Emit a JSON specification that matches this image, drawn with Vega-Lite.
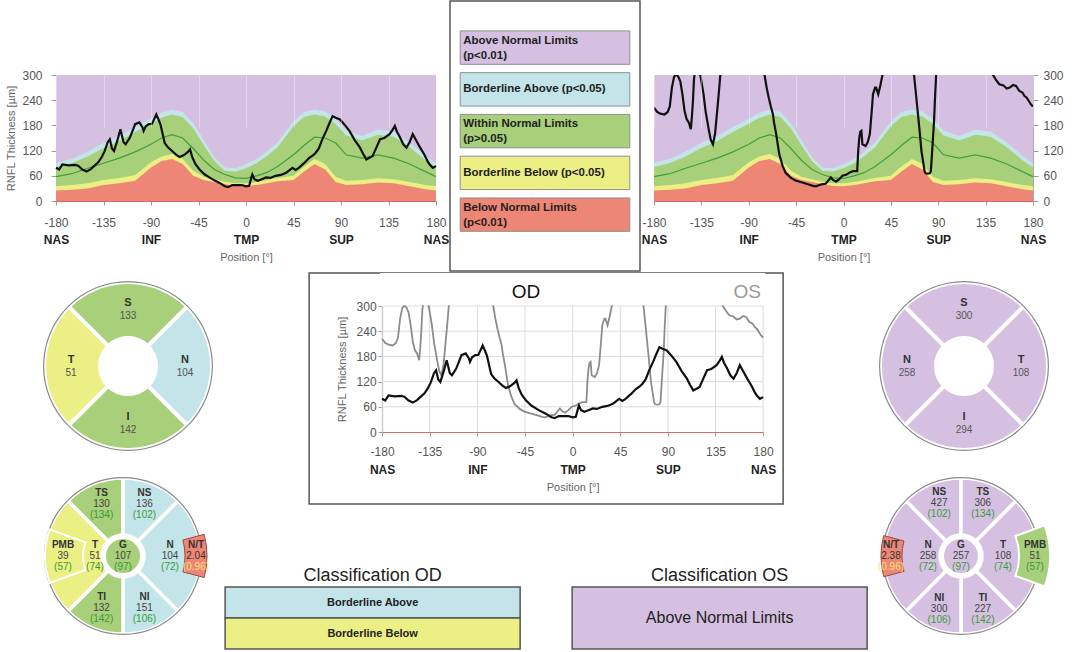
{
"$schema": "https://vega.github.io/schema/vega-lite/v6.json",
"background": "white",
"padding": {"left": 5, "top": 0, "right": 0, "bottom": 0},
"config": {"font": "Liberation Sans", "view": {"stroke": null}, "axis": {"labelOverlap": false}},
"datasets": {
 "norm": [
  {"pos": -180, "p1": 25, "p5": 35, "p50": 58, "p95": 81, "p99": 91},
  {"pos": -165, "p1": 27, "p5": 38, "p50": 65, "p95": 90, "p99": 100},
  {"pos": -150, "p1": 30, "p5": 42, "p50": 78, "p95": 106, "p99": 118},
  {"pos": -135, "p1": 38, "p5": 50, "p50": 90, "p95": 126, "p99": 138},
  {"pos": -120, "p1": 42, "p5": 55, "p50": 102, "p95": 143, "p99": 155},
  {"pos": -105, "p1": 48, "p5": 62, "p50": 117, "p95": 164, "p99": 176},
  {"pos": -90, "p1": 80, "p5": 92, "p50": 135, "p95": 184, "p99": 196},
  {"pos": -80, "p1": 95, "p5": 106, "p50": 150, "p95": 198, "p99": 210},
  {"pos": -70, "p1": 100, "p5": 112, "p50": 158, "p95": 206, "p99": 217},
  {"pos": -60, "p1": 88, "p5": 100, "p50": 150, "p95": 200, "p99": 212},
  {"pos": -50, "p1": 60, "p5": 72, "p50": 125, "p95": 173, "p99": 185},
  {"pos": -40, "p1": 50, "p5": 58, "p50": 97, "p95": 133, "p99": 145},
  {"pos": -30, "p1": 45, "p5": 52, "p50": 75, "p95": 95, "p99": 105},
  {"pos": -20, "p1": 40, "p5": 46, "p50": 63, "p95": 72, "p99": 80},
  {"pos": -10, "p1": 36, "p5": 42, "p50": 55, "p95": 70, "p99": 78},
  {"pos": 0, "p1": 35, "p5": 42, "p50": 54, "p95": 78, "p99": 88},
  {"pos": 10, "p1": 38, "p5": 45, "p50": 60, "p95": 90, "p99": 100},
  {"pos": 20, "p1": 42, "p5": 50, "p50": 68, "p95": 107, "p99": 118},
  {"pos": 30, "p1": 47, "p5": 55, "p50": 82, "p95": 128, "p99": 140},
  {"pos": 45, "p1": 50, "p5": 60, "p50": 110, "p95": 178, "p99": 190},
  {"pos": 55, "p1": 70, "p5": 82, "p50": 132, "p95": 200, "p99": 212},
  {"pos": 65, "p1": 88, "p5": 100, "p50": 152, "p95": 206, "p99": 218},
  {"pos": 75, "p1": 75, "p5": 88, "p50": 150, "p95": 201, "p99": 213},
  {"pos": 85, "p1": 45, "p5": 58, "p50": 138, "p95": 183, "p99": 195},
  {"pos": 95, "p1": 38, "p5": 48, "p50": 110, "p95": 156, "p99": 168},
  {"pos": 110, "p1": 40, "p5": 50, "p50": 102, "p95": 144, "p99": 155},
  {"pos": 125, "p1": 44, "p5": 54, "p50": 110, "p95": 158, "p99": 170},
  {"pos": 140, "p1": 42, "p5": 52, "p50": 102, "p95": 153, "p99": 165},
  {"pos": 155, "p1": 35, "p5": 45, "p50": 88, "p95": 128, "p99": 140},
  {"pos": 170, "p1": 28, "p5": 38, "p50": 70, "p95": 97, "p99": 108},
  {"pos": 180, "p1": 25, "p5": 35, "p50": 58, "p95": 80, "p99": 90}
 ],
 "od": [
  {"pos": -180, "t": 79}, {"pos": -177, "t": 75}, {"pos": -174, "t": 87}, {"pos": -168, "t": 85}, {"pos": -162, "t": 86},
  {"pos": -159, "t": 84}, {"pos": -155, "t": 75}, {"pos": -151, "t": 70}, {"pos": -147, "t": 76}, {"pos": -144, "t": 83},
  {"pos": -140, "t": 92}, {"pos": -137, "t": 103}, {"pos": -134, "t": 118}, {"pos": -131, "t": 140}, {"pos": -129, "t": 147},
  {"pos": -127, "t": 125}, {"pos": -125, "t": 119}, {"pos": -122, "t": 143}, {"pos": -119, "t": 171}, {"pos": -116, "t": 140},
  {"pos": -114, "t": 135}, {"pos": -110, "t": 151}, {"pos": -107, "t": 170}, {"pos": -105, "t": 183}, {"pos": -101, "t": 187},
  {"pos": -98, "t": 175}, {"pos": -97, "t": 167}, {"pos": -95, "t": 178}, {"pos": -92, "t": 183}, {"pos": -89, "t": 184},
  {"pos": -87, "t": 195}, {"pos": -85, "t": 206}, {"pos": -83, "t": 195}, {"pos": -81, "t": 182}, {"pos": -79, "t": 160},
  {"pos": -77, "t": 138}, {"pos": -74, "t": 128}, {"pos": -70, "t": 119}, {"pos": -66, "t": 110}, {"pos": -63, "t": 105},
  {"pos": -60, "t": 108}, {"pos": -58, "t": 111}, {"pos": -55, "t": 117}, {"pos": -53, "t": 123}, {"pos": -51, "t": 105},
  {"pos": -48, "t": 88}, {"pos": -44, "t": 75}, {"pos": -39, "t": 63}, {"pos": -34, "t": 55}, {"pos": -29, "t": 48},
  {"pos": -25, "t": 43}, {"pos": -20, "t": 35}, {"pos": -17, "t": 33}, {"pos": -13, "t": 38}, {"pos": -8, "t": 38},
  {"pos": -4, "t": 38}, {"pos": 0, "t": 35}, {"pos": 3, "t": 36}, {"pos": 5, "t": 55}, {"pos": 6, "t": 63},
  {"pos": 8, "t": 52}, {"pos": 11, "t": 48}, {"pos": 15, "t": 52}, {"pos": 19, "t": 56}, {"pos": 23, "t": 55},
  {"pos": 28, "t": 60}, {"pos": 33, "t": 62}, {"pos": 38, "t": 67}, {"pos": 41, "t": 73}, {"pos": 44, "t": 79},
  {"pos": 47, "t": 74}, {"pos": 50, "t": 79}, {"pos": 55, "t": 90}, {"pos": 60, "t": 103}, {"pos": 64, "t": 110},
  {"pos": 66, "t": 115}, {"pos": 69, "t": 125}, {"pos": 72, "t": 145}, {"pos": 76, "t": 167}, {"pos": 79, "t": 185},
  {"pos": 82, "t": 202}, {"pos": 85, "t": 198}, {"pos": 89, "t": 194}, {"pos": 93, "t": 183}, {"pos": 98, "t": 167},
  {"pos": 103, "t": 145}, {"pos": 108, "t": 127}, {"pos": 111, "t": 112}, {"pos": 114, "t": 99}, {"pos": 117, "t": 103},
  {"pos": 120, "t": 107}, {"pos": 124, "t": 130}, {"pos": 127, "t": 147}, {"pos": 131, "t": 150}, {"pos": 136, "t": 159},
  {"pos": 139, "t": 170}, {"pos": 141, "t": 179}, {"pos": 143, "t": 165}, {"pos": 146, "t": 151}, {"pos": 149, "t": 135},
  {"pos": 152, "t": 127}, {"pos": 155, "t": 140}, {"pos": 158, "t": 159}, {"pos": 161, "t": 145}, {"pos": 165, "t": 127},
  {"pos": 169, "t": 110}, {"pos": 172, "t": 95}, {"pos": 174, "t": 87}, {"pos": 177, "t": 79}, {"pos": 180, "t": 83}
 ],
 "os": [
  {"pos": -180, "t": 222}, {"pos": -177, "t": 212}, {"pos": -174, "t": 208}, {"pos": -170, "t": 206}, {"pos": -167, "t": 212},
  {"pos": -165, "t": 225}, {"pos": -163, "t": 270}, {"pos": -161, "t": 295}, {"pos": -159, "t": 302}, {"pos": -157, "t": 296},
  {"pos": -155, "t": 285}, {"pos": -153, "t": 254}, {"pos": -151, "t": 215}, {"pos": -149, "t": 195}, {"pos": -147, "t": 187},
  {"pos": -145, "t": 171}, {"pos": -144, "t": 200}, {"pos": -143, "t": 238}, {"pos": -142, "t": 290}, {"pos": -140, "t": 330},
  {"pos": -138, "t": 330}, {"pos": -136, "t": 300}, {"pos": -133, "t": 255}, {"pos": -131, "t": 214}, {"pos": -128, "t": 170},
  {"pos": -126, "t": 145}, {"pos": -124, "t": 135}, {"pos": -122, "t": 160}, {"pos": -120, "t": 214}, {"pos": -118, "t": 270},
  {"pos": -117, "t": 300}, {"pos": -112, "t": 380}, {"pos": -100, "t": 420}, {"pos": -85, "t": 400}, {"pos": -78, "t": 330},
  {"pos": -75, "t": 300}, {"pos": -73, "t": 270}, {"pos": -71, "t": 246}, {"pos": -69, "t": 225}, {"pos": -67, "t": 206},
  {"pos": -66, "t": 187}, {"pos": -64, "t": 160}, {"pos": -61, "t": 111}, {"pos": -58, "t": 85}, {"pos": -55, "t": 67},
  {"pos": -50, "t": 55}, {"pos": -45, "t": 48}, {"pos": -39, "t": 44}, {"pos": -34, "t": 40}, {"pos": -29, "t": 36},
  {"pos": -26, "t": 35}, {"pos": -23, "t": 38}, {"pos": -20, "t": 40}, {"pos": -17, "t": 41}, {"pos": -14, "t": 50},
  {"pos": -12, "t": 56}, {"pos": -10, "t": 50}, {"pos": -7, "t": 46}, {"pos": -4, "t": 52}, {"pos": -1, "t": 60},
  {"pos": 3, "t": 63}, {"pos": 6, "t": 68}, {"pos": 9, "t": 71}, {"pos": 13, "t": 71}, {"pos": 14, "t": 120},
  {"pos": 15, "t": 151}, {"pos": 16, "t": 165}, {"pos": 17, "t": 167}, {"pos": 18, "t": 135}, {"pos": 21, "t": 131},
  {"pos": 23, "t": 140}, {"pos": 25, "t": 159}, {"pos": 27, "t": 220}, {"pos": 28, "t": 254}, {"pos": 30, "t": 270},
  {"pos": 31, "t": 270}, {"pos": 33, "t": 254}, {"pos": 35, "t": 275}, {"pos": 37, "t": 300}, {"pos": 42, "t": 350},
  {"pos": 50, "t": 400}, {"pos": 60, "t": 380}, {"pos": 64, "t": 330}, {"pos": 67, "t": 300}, {"pos": 69, "t": 250},
  {"pos": 72, "t": 175}, {"pos": 74, "t": 120}, {"pos": 77, "t": 71}, {"pos": 78, "t": 66}, {"pos": 80, "t": 65},
  {"pos": 82, "t": 66}, {"pos": 83, "t": 71}, {"pos": 84, "t": 110}, {"pos": 86, "t": 190}, {"pos": 87, "t": 250},
  {"pos": 88, "t": 300}, {"pos": 92, "t": 360}, {"pos": 100, "t": 420}, {"pos": 120, "t": 420}, {"pos": 135, "t": 360},
  {"pos": 140, "t": 310}, {"pos": 142, "t": 300}, {"pos": 145, "t": 288}, {"pos": 148, "t": 278}, {"pos": 152, "t": 275},
  {"pos": 155, "t": 268}, {"pos": 158, "t": 270}, {"pos": 161, "t": 276}, {"pos": 164, "t": 274}, {"pos": 167, "t": 262},
  {"pos": 170, "t": 258}, {"pos": 172, "t": 250}, {"pos": 174, "t": 246}, {"pos": 176, "t": 238}, {"pos": 178, "t": 230},
  {"pos": 180, "t": 225}
 ],
 "gx": [{"v": -180}, {"v": -135}, {"v": -90}, {"v": -45}, {"v": 0}, {"v": 45}, {"v": 90}, {"v": 135}, {"v": 180}],
 "gy": [{"v": 60}, {"v": 120}, {"v": 180}, {"v": 240}, {"v": 300}],
 "panel": [{"part": "plot"}],
 "eyes": [{"eye": "OD"}, {"eye": "OS"}],
 "legend": [
  {"label": "Above Normal Limits\n(p<0.01)", "cls": "ANL"},
  {"label": "Borderline Above (p<0.05)", "cls": "BA"},
  {"label": "Within Normal Limits\n(p>0.05)", "cls": "WNL"},
  {"label": "Borderline Below (p<0.05)", "cls": "BB"},
  {"label": "Below Normal Limits\n(p<0.01)", "cls": "BNL"}
 ],
 "clsod": [{"label": "Borderline Above", "cls": "BA"}, {"label": "Borderline Below", "cls": "BB"}],
 "clsos": [{"label": "Above Normal Limits", "cls": "ANL"}],
 "c4od": [
  {"k": 1, "sector": "S", "value": 133, "cls": "WNL"},
  {"k": 2, "sector": "N", "value": 104, "cls": "BA"},
  {"k": 3, "sector": "I", "value": 142, "cls": "WNL"},
  {"k": 4, "sector": "T", "value": 51, "cls": "BB"}
 ],
 "c4os": [
  {"k": 1, "sector": "S", "value": 300, "cls": "ANL"},
  {"k": 2, "sector": "T", "value": 108, "cls": "ANL"},
  {"k": 3, "sector": "I", "value": 294, "cls": "ANL"},
  {"k": 4, "sector": "N", "value": 258, "cls": "ANL"}
 ],
 "c8od": [
  {"k": 1, "sector": "TS", "deg": 45, "value": 130, "normal": "(134)", "cls": "WNL"},
  {"k": 2, "sector": "NS", "deg": 45, "value": 136, "normal": "(102)", "cls": "BA"},
  {"k": 3, "sector": "N", "deg": 90, "value": 104, "normal": "(72)", "cls": "BA"},
  {"k": 4, "sector": "NI", "deg": 45, "value": 151, "normal": "(106)", "cls": "BA"},
  {"k": 5, "sector": "TI", "deg": 45, "value": 132, "normal": "(142)", "cls": "WNL"},
  {"k": 6, "sector": "T", "deg": 90, "value": 51, "normal": "(74)", "cls": "BB"}
 ],
 "c8os": [
  {"k": 1, "sector": "NS", "deg": 45, "value": 427, "normal": "(102)", "cls": "ANL"},
  {"k": 2, "sector": "TS", "deg": 45, "value": 306, "normal": "(134)", "cls": "ANL"},
  {"k": 3, "sector": "T", "deg": 90, "value": 108, "normal": "(74)", "cls": "ANL"},
  {"k": 4, "sector": "TI", "deg": 45, "value": 227, "normal": "(142)", "cls": "ANL"},
  {"k": 5, "sector": "NI", "deg": 45, "value": 300, "normal": "(106)", "cls": "ANL"},
  {"k": 6, "sector": "N", "deg": 90, "value": 258, "normal": "(72)", "cls": "ANL"}
 ],
 "god": [{"sector": "G", "value": "107", "normal": "(97)", "cls": "WNL"}],
 "gos": [{"sector": "G", "value": "257", "normal": "(97)", "cls": "ANL"}],
 "pmbod": [{"sector": "PMB", "value": "39", "normal": "(57)", "cls": "BB"}],
 "pmbos": [{"sector": "PMB", "value": "51", "normal": "(57)", "cls": "WNL"}],
 "ntod": [{"sector": "N/T", "value": "2.04", "normal": "(0.96)", "cls": "BNL"}],
 "ntos": [{"sector": "N/T", "value": "2.38", "normal": "(0.96)", "cls": "BNL"}]
},
"spacing": 0,
"vconcat": [
 {"hconcat": [
  {"width": 380, "height": 200,
   "resolve": {"axis": {"x": "independent", "y": "independent"}},
   "layer": [
    {"data": {"name": "panel"}, "mark": {"type": "rect", "color": "#d6c0e1"},
     "encoding": {
      "x": {"datum": -180, "type": "quantitative", "scale": {"domain": [-180, 180], "nice": false},
            "axis": {"values": [-180,-135,-90,-45,0,45,90,135,180], "labelExpr": "'' + datum.value", "title": null, "labelFontSize": 12, "labelColor": "#555555", "labelFlush": false, "labelOverlap": false, "labelPadding": 12, "tickSize": 4, "tickColor": "#999999", "domainColor": "#e06060", "grid": true, "gridColor": "#ffffff", "gridOpacity": 0.35, "zindex": 1}},
      "x2": {"datum": 180},
      "y": {"datum": 0, "type": "quantitative", "scale": {"domain": [0, 300], "range": [200, 74], "nice": false},
            "axis": {"values": [0,60,120,180,240,300], "title": "RNFL Thickness [µm]", "titleFontSize": 11, "titleFontWeight": "normal", "titleColor": "#666666", "titlePadding": 5, "labelFontSize": 12, "labelColor": "#555555", "labelOverlap": false, "labelPadding": 9, "tickSize": 5, "tickColor": "#999999", "domainColor": "#aaaaaa", "grid": false}},
      "y2": {"datum": 300}}},
    {"data": {"name": "norm"}, "mark": {"type": "area", "color": "#c3e4e8"}, "encoding": {"x": {"field": "pos", "type": "quantitative", "axis": null}, "y": {"field": "p99", "type": "quantitative", "axis": null}}},
    {"data": {"name": "norm"}, "mark": {"type": "area", "color": "#a8cf79"}, "encoding": {"x": {"field": "pos", "type": "quantitative", "axis": null}, "y": {"field": "p95", "type": "quantitative", "axis": null}}},
    {"data": {"name": "norm"}, "mark": {"type": "area", "color": "#ecef84"}, "encoding": {"x": {"field": "pos", "type": "quantitative", "axis": null}, "y": {"field": "p5", "type": "quantitative", "axis": null}}},
    {"data": {"name": "norm"}, "mark": {"type": "area", "color": "#ee8676"}, "encoding": {"x": {"field": "pos", "type": "quantitative", "axis": null}, "y": {"field": "p1", "type": "quantitative", "axis": null}}},
    {"data": {"name": "norm"}, "mark": {"type": "line", "color": "#3f9f3f", "strokeWidth": 1.2}, "encoding": {"x": {"field": "pos", "type": "quantitative", "axis": null}, "y": {"field": "p50", "type": "quantitative", "axis": null}}},
    {"data": {"name": "od"}, "mark": {"type": "line", "color": "#111111", "strokeWidth": 2.2},
     "encoding": {
      "x": {"field": "pos", "type": "quantitative",
            "axis": {"orient": "bottom", "values": [-180,-90,0,90,180], "labelExpr": "datum.value == -90 ? 'INF' : datum.value == 0 ? 'TMP' : datum.value == 90 ? 'SUP' : 'NAS'", "labelFontWeight": "bold", "labelFontSize": 12, "labelColor": "#222222", "labelFlush": false, "labelOverlap": false, "domain": false, "ticks": false, "grid": false, "offset": 33, "labelPadding": 0, "title": "Position [°]", "titleFontSize": 11, "titleFontWeight": "normal", "titleColor": "#666666", "titlePadding": 6}},
      "y": {"field": "t", "type": "quantitative", "axis": null}}}
   ]},
  {"width": 190, "height": 270,
   "view": {"stroke": "#555555", "strokeWidth": 1.5},
   "data": {"name": "legend"},
   "encoding": {"y": {"field": "cls", "type": "nominal", "sort": null, "scale": {"domain": ["ANL","BA","WNL","BB","BNL"], "paddingInner": 0.2, "paddingOuter": 0.833, "align": 0.43}, "axis": null}},
   "layer": [
    {"mark": {"type": "bar", "stroke": "#8f8f8f", "strokeWidth": 1},
     "encoding": {
      "x": {"aggregate": "count", "type": "quantitative", "scale": {"domain": [-0.06, 1.06], "nice": false}, "axis": null},
      "color": {"field": "cls", "type": "nominal", "scale": {"domain": ["ANL","BA","WNL","BB","BNL"], "range": ["#d6c0e1","#c3e4e8","#a8cf79","#ecef84","#ee8676"]}, "legend": null}}},
    {"transform": [{"filter": "datum.cls == 'ANL' || datum.cls == 'WNL' || datum.cls == 'BNL'"}],
     "mark": {"type": "text", "align": "left", "baseline": "middle", "lineBreak": "\n", "lineHeight": 15, "fontWeight": "bold", "fontSize": 11.5, "color": "#222222", "dx": 3, "dy": -7},
     "encoding": {"x": {"datum": 0, "type": "quantitative"}, "text": {"field": "label", "type": "nominal"}}},
    {"transform": [{"filter": "datum.cls == 'BA' || datum.cls == 'BB'"}],
     "mark": {"type": "text", "align": "left", "baseline": "middle", "fontWeight": "bold", "fontSize": 11.5, "color": "#222222", "dx": 3},
     "encoding": {"x": {"datum": 0, "type": "quantitative"}, "text": {"field": "label", "type": "nominal"}}}
   ]},
  {"width": 379, "height": 200,
   "resolve": {"axis": {"x": "independent", "y": "independent"}},
   "layer": [
    {"data": {"name": "panel"}, "mark": {"type": "rect", "color": "#d6c0e1"},
     "encoding": {
      "x": {"datum": -180, "type": "quantitative", "scale": {"domain": [-180, 180], "nice": false},
            "axis": {"values": [-180,-135,-90,-45,0,45,90,135,180], "labelExpr": "'' + datum.value", "title": null, "labelFontSize": 12, "labelColor": "#555555", "labelFlush": false, "labelOverlap": false, "labelPadding": 12, "tickSize": 4, "tickColor": "#999999", "domainColor": "#e06060", "grid": true, "gridColor": "#ffffff", "gridOpacity": 0.35, "zindex": 1}},
      "x2": {"datum": 180},
      "y": {"datum": 0, "type": "quantitative", "scale": {"domain": [0, 300], "range": [200, 74], "nice": false},
            "axis": {"orient": "right", "values": [0,60,120,180,240,300], "title": null, "labelFontSize": 12, "labelColor": "#555555", "labelOverlap": false, "labelPadding": 5, "tickSize": 5, "tickColor": "#999999", "domainColor": "#aaaaaa", "grid": false}},
      "y2": {"datum": 300}}},
    {"data": {"name": "norm"}, "mark": {"type": "area", "color": "#c3e4e8"}, "encoding": {"x": {"field": "pos", "type": "quantitative", "axis": null}, "y": {"field": "p99", "type": "quantitative", "axis": null}}},
    {"data": {"name": "norm"}, "mark": {"type": "area", "color": "#a8cf79"}, "encoding": {"x": {"field": "pos", "type": "quantitative", "axis": null}, "y": {"field": "p95", "type": "quantitative", "axis": null}}},
    {"data": {"name": "norm"}, "mark": {"type": "area", "color": "#ecef84"}, "encoding": {"x": {"field": "pos", "type": "quantitative", "axis": null}, "y": {"field": "p5", "type": "quantitative", "axis": null}}},
    {"data": {"name": "norm"}, "mark": {"type": "area", "color": "#ee8676"}, "encoding": {"x": {"field": "pos", "type": "quantitative", "axis": null}, "y": {"field": "p1", "type": "quantitative", "axis": null}}},
    {"data": {"name": "norm"}, "mark": {"type": "line", "color": "#3f9f3f", "strokeWidth": 1.2}, "encoding": {"x": {"field": "pos", "type": "quantitative", "axis": null}, "y": {"field": "p50", "type": "quantitative", "axis": null}}},
    {"data": {"name": "os"}, "mark": {"type": "line", "color": "#111111", "strokeWidth": 2.2, "clip": true},
     "encoding": {
      "x": {"field": "pos", "type": "quantitative",
            "axis": {"orient": "bottom", "values": [-180,-90,0,90,180], "labelExpr": "datum.value == -90 ? 'INF' : datum.value == 0 ? 'TMP' : datum.value == 90 ? 'SUP' : 'NAS'", "labelFontWeight": "bold", "labelFontSize": 12, "labelColor": "#222222", "labelFlush": false, "labelOverlap": false, "domain": false, "ticks": false, "grid": false, "offset": 33, "labelPadding": 0, "title": "Position [°]", "titleFontSize": 11, "titleFontWeight": "normal", "titleColor": "#666666", "titlePadding": 6}},
      "y": {"field": "t", "type": "quantitative", "axis": null}}},
    {"data": {"name": "panel"}, "mark": {"type": "rect", "color": "white", "clip": true},
     "encoding": {"x": {"datum": -181, "type": "quantitative", "axis": null}, "x2": {"datum": 181}, "y": {"datum": 300, "type": "quantitative", "axis": null}, "y2": {"datum": 520}}}
   ]}
 ], "spacing": 0},
 {"hconcat": [
  {"vconcat": [
   {"width": 144, "height": 186,
    "data": {"name": "c4od"},
    "encoding": {
     "theta": {"aggregate": "count", "type": "quantitative", "stack": true, "scale": {"range": [-0.7854, 5.4978]}},
     "order": {"field": "k", "type": "quantitative"}},
    "layer": [
     {"mark": {"type": "arc", "outerRadius": 84, "innerRadius": 28, "stroke": "white", "strokeWidth": 4},
      "encoding": {"color": {"field": "cls", "type": "nominal", "scale": {"domain": ["ANL","BA","WNL","BB","BNL"], "range": ["#d6c0e1","#c3e4e8","#a8cf79","#ecef84","#ee8676"]}, "legend": null}}},
     {"mark": {"type": "arc", "outerRadius": 85, "innerRadius": 83.8, "color": "#8a8a8a"}},
     {"mark": {"type": "text", "radius": 57, "fontWeight": "bold", "fontSize": 11, "dy": -6, "color": "#333333"}, "encoding": {"text": {"field": "sector", "type": "nominal"}}},
     {"mark": {"type": "text", "radius": 57, "fontSize": 10, "dy": 7, "color": "#555555"}, "encoding": {"text": {"field": "value", "type": "nominal"}}}
    ]},
   {"width": 134, "height": 194,
    "layer": [
     {"data": {"name": "c8od"},
      "encoding": {
       "theta": {"field": "deg", "type": "quantitative", "stack": true, "scale": {"range": [-0.7854, 5.4978]}},
       "order": {"field": "k", "type": "quantitative"}},
      "layer": [
       {"mark": {"type": "arc", "outerRadius": 78, "innerRadius": 21, "stroke": "white", "strokeWidth": 3.5},
        "encoding": {"color": {"field": "cls", "type": "nominal", "scale": {"domain": ["ANL","BA","WNL","BB","BNL"], "range": ["#d6c0e1","#c3e4e8","#a8cf79","#ecef84","#ee8676"]}, "legend": null}}},
       {"mark": {"type": "arc", "outerRadius": 79, "innerRadius": 77.8, "color": "#8a8a8a"}}
      ]},
     {"data": {"name": "pmbod"}, "mark": {"type": "arc", "theta": 4.36, "theta2": 5.06, "innerRadius": 40, "outerRadius": 78, "stroke": "white", "strokeWidth": 2},
      "encoding": {"color": {"field": "cls", "type": "nominal", "scale": {"domain": ["ANL","BA","WNL","BB","BNL"], "range": ["#d6c0e1","#c3e4e8","#a8cf79","#ecef84","#ee8676"]}, "legend": null}}},
     {"data": {"name": "ntod"}, "mark": {"type": "arc", "theta": 1.31, "theta2": 1.83, "innerRadius": 62, "outerRadius": 84, "stroke": "#9a4a40", "strokeWidth": 1},
      "encoding": {"color": {"field": "cls", "type": "nominal", "scale": {"domain": ["ANL","BA","WNL","BB","BNL"], "range": ["#d6c0e1","#c3e4e8","#a8cf79","#ecef84","#ee8676"]}, "legend": null}}},
     {"data": {"name": "god"}, "mark": {"type": "arc", "theta": 0, "theta2": 6.2832, "innerRadius": 0, "outerRadius": 17},
      "encoding": {"color": {"field": "cls", "type": "nominal", "scale": {"domain": ["ANL","BA","WNL","BB","BNL"], "range": ["#d6c0e1","#c3e4e8","#a8cf79","#ecef84","#ee8676"]}, "legend": null}}},
     {"data": {"name": "c8od"},
      "encoding": {
       "theta": {"field": "deg", "type": "quantitative", "stack": true, "scale": {"range": [-0.7854, 5.4978]}},
       "order": {"field": "k", "type": "quantitative"}},
      "layer": [
       {"mark": {"type": "text", "radius": 56, "fontWeight": "bold", "fontSize": 10, "dy": -11, "color": "#333333"}, "encoding": {"text": {"condition": {"test": "datum.deg == 45", "field": "sector", "type": "nominal"}, "value": ""}}},
       {"mark": {"type": "text", "radius": 56, "fontSize": 10, "dy": 0, "color": "#444444"}, "encoding": {"text": {"condition": {"test": "datum.deg == 45", "field": "value", "type": "nominal"}, "value": ""}}},
       {"mark": {"type": "text", "radius": 56, "fontSize": 10, "dy": 11, "color": "#3a9a3a"}, "encoding": {"text": {"condition": {"test": "datum.deg == 45", "field": "normal", "type": "nominal"}, "value": ""}}},
       {"mark": {"type": "text", "radius": 47, "fontWeight": "bold", "fontSize": 10, "dy": -11, "color": "#333333"}, "encoding": {"text": {"condition": {"test": "datum.sector == 'N'", "field": "sector", "type": "nominal"}, "value": ""}}},
       {"mark": {"type": "text", "radius": 47, "fontSize": 10, "dy": 0, "color": "#444444"}, "encoding": {"text": {"condition": {"test": "datum.sector == 'N'", "field": "value", "type": "nominal"}, "value": ""}}},
       {"mark": {"type": "text", "radius": 47, "fontSize": 10, "dy": 11, "color": "#3a9a3a"}, "encoding": {"text": {"condition": {"test": "datum.sector == 'N'", "field": "normal", "type": "nominal"}, "value": ""}}},
       {"mark": {"type": "text", "radius": 28, "fontWeight": "bold", "fontSize": 10, "dy": -11, "color": "#333333"}, "encoding": {"text": {"condition": {"test": "datum.sector == 'T'", "field": "sector", "type": "nominal"}, "value": ""}}},
       {"mark": {"type": "text", "radius": 28, "fontSize": 10, "dy": 0, "color": "#444444"}, "encoding": {"text": {"condition": {"test": "datum.sector == 'T'", "field": "value", "type": "nominal"}, "value": ""}}},
       {"mark": {"type": "text", "radius": 28, "fontSize": 10, "dy": 11, "color": "#3a9a3a"}, "encoding": {"text": {"condition": {"test": "datum.sector == 'T'", "field": "normal", "type": "nominal"}, "value": ""}}}
      ]},
     {"data": {"name": "god"}, "mark": {"type": "text", "fontWeight": "bold", "fontSize": 10, "dy": -11, "color": "#333333"}, "encoding": {"text": {"field": "sector", "type": "nominal"}}},
     {"data": {"name": "god"}, "mark": {"type": "text", "fontSize": 10, "dy": 0, "color": "#444444"}, "encoding": {"text": {"field": "value", "type": "nominal"}}},
     {"data": {"name": "god"}, "mark": {"type": "text", "fontSize": 10, "dy": 11, "color": "#3a9a3a"}, "encoding": {"text": {"field": "normal", "type": "nominal"}}},
     {"data": {"name": "pmbod"}, "mark": {"type": "text", "theta": 4.712, "radius": 60, "fontWeight": "bold", "fontSize": 10, "dy": -11, "color": "#333333"}, "encoding": {"text": {"field": "sector", "type": "nominal"}}},
     {"data": {"name": "pmbod"}, "mark": {"type": "text", "theta": 4.712, "radius": 60, "fontSize": 10, "dy": 0, "color": "#444444"}, "encoding": {"text": {"field": "value", "type": "nominal"}}},
     {"data": {"name": "pmbod"}, "mark": {"type": "text", "theta": 4.712, "radius": 60, "fontSize": 10, "dy": 11, "color": "#3a9a3a"}, "encoding": {"text": {"field": "normal", "type": "nominal"}}},
     {"data": {"name": "ntod"}, "mark": {"type": "text", "theta": 1.5708, "radius": 73, "fontWeight": "bold", "fontSize": 10, "dy": -11, "color": "#333333"}, "encoding": {"text": {"field": "sector", "type": "nominal"}}},
     {"data": {"name": "ntod"}, "mark": {"type": "text", "theta": 1.5708, "radius": 73, "fontSize": 10, "dy": 0, "color": "#333333"}, "encoding": {"text": {"field": "value", "type": "nominal"}}},
     {"data": {"name": "ntod"}, "mark": {"type": "text", "theta": 1.5708, "radius": 73, "fontSize": 10, "dy": 11, "color": "#f3e27a"}, "encoding": {"text": {"field": "normal", "type": "nominal"}}}
    ]}
  ], "spacing": 0},
  {"vconcat": [
   {"width": 474, "height": 231,
    "view": {"stroke": "#555555", "strokeWidth": 1.5},
    "resolve": {"axis": {"x": "independent"}},
    "layer": [
     {"data": {"name": "gx"}, "mark": {"type": "rule", "color": "#dcdcdc", "strokeWidth": 1},
      "encoding": {
       "x": {"field": "v", "type": "quantitative", "scale": {"domain": [-180, 180], "range": [73, 454], "nice": false},
             "axis": {"values": [-180,-135,-90,-45,0,45,90,135,180], "labelExpr": "'' + datum.value", "title": null, "labelFontSize": 12, "labelColor": "#555555", "labelFlush": false, "labelOverlap": false, "labelPadding": 10, "tickSize": 4, "tickColor": "#999999", "domainColor": "#e06a6a", "offset": -72, "grid": false}},
       "y": {"datum": 0, "type": "quantitative", "scale": {"domain": [0, 300], "range": [159, 33], "nice": false},
             "axis": {"values": [0,60,120,180,240,300], "title": "RNFL Thickness [µm]", "titleFontSize": 11, "titleFontWeight": "normal", "titleColor": "#666666", "titlePadding": 9, "labelFontSize": 12, "labelColor": "#555555", "labelOverlap": false, "labelPadding": 2, "tickSize": 4, "tickColor": "#999999", "domainColor": "#aaaaaa", "offset": -73, "grid": false}},
       "y2": {"datum": 300}}},
     {"data": {"name": "gy"}, "mark": {"type": "rule", "color": "#dcdcdc", "strokeWidth": 1},
      "encoding": {"y": {"field": "v", "type": "quantitative"}, "x": {"datum": -180, "type": "quantitative", "axis": null}, "x2": {"datum": 180}}},
     {"data": {"name": "os"}, "mark": {"type": "line", "color": "#8c8c8c", "strokeWidth": 1.8, "clip": true},
      "encoding": {"x": {"field": "pos", "type": "quantitative", "axis": null}, "y": {"field": "t", "type": "quantitative"}}},
     {"data": {"name": "od"}, "mark": {"type": "line", "color": "#111111", "strokeWidth": 2.2, "clip": true},
      "encoding": {
       "x": {"field": "pos", "type": "quantitative",
             "axis": {"orient": "bottom", "values": [-180,-90,0,90,180], "labelExpr": "datum.value == -90 ? 'INF' : datum.value == 0 ? 'TMP' : datum.value == 90 ? 'SUP' : 'NAS'", "labelFontWeight": "bold", "labelFontSize": 12, "labelColor": "#222222", "labelFlush": false, "labelOverlap": false, "domain": false, "ticks": false, "grid": false, "offset": -40, "labelPadding": 0, "title": "Position [°]", "titleFontSize": 11, "titleFontWeight": "normal", "titleColor": "#666666", "titlePadding": 6}},
       "y": {"field": "t", "type": "quantitative"}}},
     {"data": {"name": "panel"}, "mark": {"type": "rect", "color": "white", "clip": true},
      "encoding": {"x": {"datum": -182, "type": "quantitative", "axis": null}, "x2": {"datum": 182}, "y": {"datum": 301.5, "type": "quantitative"}, "y2": {"datum": 480}}},
     {"data": {"name": "eyes"}, "transform": [{"filter": "datum.eye == 'OD'"}],
      "mark": {"type": "text", "fontSize": 19, "dy": -14, "baseline": "middle", "color": "#111111"},
      "encoding": {"x": {"datum": -44, "type": "quantitative", "axis": null}, "y": {"datum": 300, "type": "quantitative"}, "text": {"field": "eye", "type": "nominal"}}},
     {"data": {"name": "eyes"}, "transform": [{"filter": "datum.eye == 'OS'"}],
      "mark": {"type": "text", "fontSize": 19, "dy": -14, "baseline": "middle", "color": "#9a9a9a"},
      "encoding": {"x": {"datum": 165, "type": "quantitative", "axis": null}, "y": {"datum": 300, "type": "quantitative"}, "text": {"field": "eye", "type": "nominal"}}}
    ]},
   {"hconcat": [
    {"width": 295, "height": 62,
     "title": {"text": "Classification OD", "fontSize": 18, "fontWeight": "normal", "color": "#222222", "offset": 1, "anchor": "middle"},
     "data": {"name": "clsod"},
     "encoding": {"y": {"field": "cls", "type": "nominal", "sort": null, "scale": {"paddingInner": 0, "paddingOuter": 0}, "axis": null}},
     "layer": [
      {"mark": {"type": "bar", "stroke": "#555555", "strokeWidth": 1.5},
       "encoding": {
        "x": {"aggregate": "count", "type": "quantitative", "scale": {"domain": [0, 1], "nice": false}, "axis": null},
        "color": {"field": "cls", "type": "nominal", "scale": {"domain": ["ANL","BA","WNL","BB","BNL"], "range": ["#d6c0e1","#c3e4e8","#a8cf79","#ecef84","#ee8676"]}, "legend": null}}},
      {"mark": {"type": "text", "fontWeight": "bold", "fontSize": 11, "color": "#222222"}, "encoding": {"text": {"field": "label", "type": "nominal"}}}
     ]},
    {"width": 295, "height": 62,
     "title": {"text": "Classification OS", "fontSize": 18, "fontWeight": "normal", "color": "#222222", "offset": 1, "anchor": "middle"},
     "data": {"name": "clsos"},
     "encoding": {"y": {"field": "cls", "type": "nominal", "sort": null, "scale": {"paddingInner": 0, "paddingOuter": 0}, "axis": null}},
     "layer": [
      {"mark": {"type": "bar", "stroke": "#555555", "strokeWidth": 1.5},
       "encoding": {
        "x": {"aggregate": "count", "type": "quantitative", "scale": {"domain": [0, 1], "nice": false}, "axis": null},
        "color": {"field": "cls", "type": "nominal", "scale": {"domain": ["ANL","BA","WNL","BB","BNL"], "range": ["#d6c0e1","#c3e4e8","#a8cf79","#ecef84","#ee8676"]}, "legend": null}}},
      {"mark": {"type": "text", "fontSize": 16, "color": "#222222"}, "encoding": {"text": {"field": "label", "type": "nominal"}}}
     ]}
   ], "spacing": 50}
  ], "spacing": 62, "center": true},
  {"vconcat": [
   {"width": 166, "height": 186,
    "data": {"name": "c4os"},
    "encoding": {
     "theta": {"aggregate": "count", "type": "quantitative", "stack": true, "scale": {"range": [-0.7854, 5.4978]}},
     "order": {"field": "k", "type": "quantitative"}},
    "layer": [
     {"mark": {"type": "arc", "outerRadius": 84, "innerRadius": 28, "stroke": "white", "strokeWidth": 4},
      "encoding": {"color": {"field": "cls", "type": "nominal", "scale": {"domain": ["ANL","BA","WNL","BB","BNL"], "range": ["#d6c0e1","#c3e4e8","#a8cf79","#ecef84","#ee8676"]}, "legend": null}}},
     {"mark": {"type": "arc", "outerRadius": 85, "innerRadius": 83.8, "color": "#8a8a8a"}},
     {"mark": {"type": "text", "radius": 57, "fontWeight": "bold", "fontSize": 11, "dy": -6, "color": "#333333"}, "encoding": {"text": {"field": "sector", "type": "nominal"}}},
     {"mark": {"type": "text", "radius": 57, "fontSize": 10, "dy": 7, "color": "#555555"}, "encoding": {"text": {"field": "value", "type": "nominal"}}}
    ]},
   {"width": 160, "height": 194,
    "layer": [
     {"data": {"name": "c8os"},
      "encoding": {
       "theta": {"field": "deg", "type": "quantitative", "stack": true, "scale": {"range": [-0.7854, 5.4978]}},
       "order": {"field": "k", "type": "quantitative"}},
      "layer": [
       {"mark": {"type": "arc", "outerRadius": 78, "innerRadius": 21, "stroke": "white", "strokeWidth": 3.5},
        "encoding": {"color": {"field": "cls", "type": "nominal", "scale": {"domain": ["ANL","BA","WNL","BB","BNL"], "range": ["#d6c0e1","#c3e4e8","#a8cf79","#ecef84","#ee8676"]}, "legend": null}}},
       {"mark": {"type": "arc", "outerRadius": 79, "innerRadius": 77.8, "color": "#8a8a8a"}}
      ]},
     {"data": {"name": "pmbos"}, "mark": {"type": "arc", "theta": 1.22, "theta2": 1.92, "innerRadius": 58, "outerRadius": 89, "stroke": "white", "strokeWidth": 2},
      "encoding": {"color": {"field": "cls", "type": "nominal", "scale": {"domain": ["ANL","BA","WNL","BB","BNL"], "range": ["#d6c0e1","#c3e4e8","#a8cf79","#ecef84","#ee8676"]}, "legend": null}}},
     {"data": {"name": "ntos"}, "mark": {"type": "arc", "theta": 4.45, "theta2": 4.97, "innerRadius": 59, "outerRadius": 80, "stroke": "#9a4a40", "strokeWidth": 1},
      "encoding": {"color": {"field": "cls", "type": "nominal", "scale": {"domain": ["ANL","BA","WNL","BB","BNL"], "range": ["#d6c0e1","#c3e4e8","#a8cf79","#ecef84","#ee8676"]}, "legend": null}}},
     {"data": {"name": "gos"}, "mark": {"type": "arc", "theta": 0, "theta2": 6.2832, "innerRadius": 0, "outerRadius": 17},
      "encoding": {"color": {"field": "cls", "type": "nominal", "scale": {"domain": ["ANL","BA","WNL","BB","BNL"], "range": ["#d6c0e1","#c3e4e8","#a8cf79","#ecef84","#ee8676"]}, "legend": null}}},
     {"data": {"name": "c8os"},
      "encoding": {
       "theta": {"field": "deg", "type": "quantitative", "stack": true, "scale": {"range": [-0.7854, 5.4978]}},
       "order": {"field": "k", "type": "quantitative"}},
      "layer": [
       {"mark": {"type": "text", "radius": 57, "fontWeight": "bold", "fontSize": 10, "dy": -11, "color": "#333333"}, "encoding": {"text": {"condition": {"test": "datum.deg == 45", "field": "sector", "type": "nominal"}, "value": ""}}},
       {"mark": {"type": "text", "radius": 57, "fontSize": 10, "dy": 0, "color": "#444444"}, "encoding": {"text": {"condition": {"test": "datum.deg == 45", "field": "value", "type": "nominal"}, "value": ""}}},
       {"mark": {"type": "text", "radius": 57, "fontSize": 10, "dy": 11, "color": "#3a9a3a"}, "encoding": {"text": {"condition": {"test": "datum.deg == 45", "field": "normal", "type": "nominal"}, "value": ""}}},
       {"mark": {"type": "text", "radius": 42, "fontWeight": "bold", "fontSize": 10, "dy": -11, "color": "#333333"}, "encoding": {"text": {"condition": {"test": "datum.sector == 'T'", "field": "sector", "type": "nominal"}, "value": ""}}},
       {"mark": {"type": "text", "radius": 42, "fontSize": 10, "dy": 0, "color": "#444444"}, "encoding": {"text": {"condition": {"test": "datum.sector == 'T'", "field": "value", "type": "nominal"}, "value": ""}}},
       {"mark": {"type": "text", "radius": 42, "fontSize": 10, "dy": 11, "color": "#3a9a3a"}, "encoding": {"text": {"condition": {"test": "datum.sector == 'T'", "field": "normal", "type": "nominal"}, "value": ""}}},
       {"mark": {"type": "text", "radius": 33, "fontWeight": "bold", "fontSize": 10, "dy": -11, "color": "#333333"}, "encoding": {"text": {"condition": {"test": "datum.sector == 'N'", "field": "sector", "type": "nominal"}, "value": ""}}},
       {"mark": {"type": "text", "radius": 33, "fontSize": 10, "dy": 0, "color": "#444444"}, "encoding": {"text": {"condition": {"test": "datum.sector == 'N'", "field": "value", "type": "nominal"}, "value": ""}}},
       {"mark": {"type": "text", "radius": 33, "fontSize": 10, "dy": 11, "color": "#3a9a3a"}, "encoding": {"text": {"condition": {"test": "datum.sector == 'N'", "field": "normal", "type": "nominal"}, "value": ""}}}
      ]},
     {"data": {"name": "gos"}, "mark": {"type": "text", "fontWeight": "bold", "fontSize": 10, "dy": -11, "color": "#333333"}, "encoding": {"text": {"field": "sector", "type": "nominal"}}},
     {"data": {"name": "gos"}, "mark": {"type": "text", "fontSize": 10, "dy": 0, "color": "#444444"}, "encoding": {"text": {"field": "value", "type": "nominal"}}},
     {"data": {"name": "gos"}, "mark": {"type": "text", "fontSize": 10, "dy": 11, "color": "#3a9a3a"}, "encoding": {"text": {"field": "normal", "type": "nominal"}}},
     {"data": {"name": "pmbos"}, "mark": {"type": "text", "theta": 1.5708, "radius": 74, "fontWeight": "bold", "fontSize": 10, "dy": -11, "color": "#333333"}, "encoding": {"text": {"field": "sector", "type": "nominal"}}},
     {"data": {"name": "pmbos"}, "mark": {"type": "text", "theta": 1.5708, "radius": 74, "fontSize": 10, "dy": 0, "color": "#444444"}, "encoding": {"text": {"field": "value", "type": "nominal"}}},
     {"data": {"name": "pmbos"}, "mark": {"type": "text", "theta": 1.5708, "radius": 74, "fontSize": 10, "dy": 11, "color": "#3a9a3a"}, "encoding": {"text": {"field": "normal", "type": "nominal"}}},
     {"data": {"name": "ntos"}, "mark": {"type": "text", "theta": 4.712, "radius": 70, "fontWeight": "bold", "fontSize": 10, "dy": -11, "color": "#333333"}, "encoding": {"text": {"field": "sector", "type": "nominal"}}},
     {"data": {"name": "ntos"}, "mark": {"type": "text", "theta": 4.712, "radius": 70, "fontSize": 10, "dy": 0, "color": "#333333"}, "encoding": {"text": {"field": "value", "type": "nominal"}}},
     {"data": {"name": "ntos"}, "mark": {"type": "text", "theta": 4.712, "radius": 70, "fontSize": 10, "dy": 11, "color": "#f3e27a"}, "encoding": {"text": {"field": "normal", "type": "nominal"}}}
    ]}
  ], "spacing": 0}
 ], "spacing": 4}
]
}
